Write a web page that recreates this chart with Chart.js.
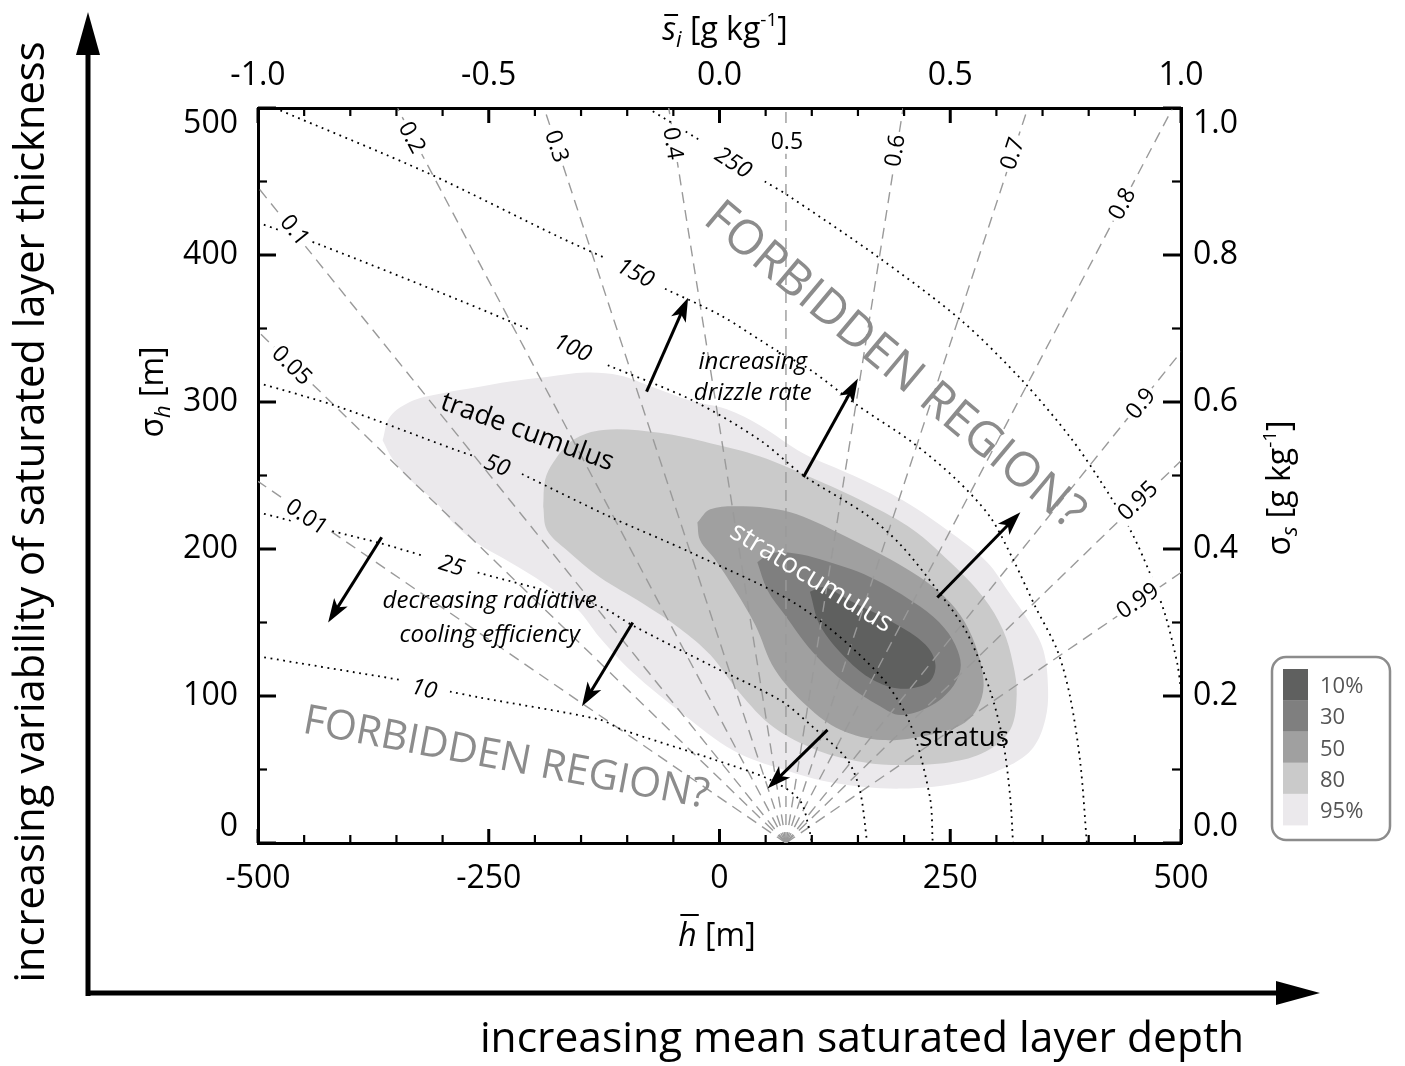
<!DOCTYPE html>
<html>
<head>
<meta charset="utf-8">
<script src="https://cdn.jsdelivr.net/npm/chart.js@4/dist/chart.umd.min.js"></script>
<style>
  html, body { margin: 0; padding: 0; background: #fff; }
  canvas { display: block; }
</style>
</head>
<body>
<canvas id="grafico" width="1405" height="1066"></canvas>
<script>
// axis ticks
const hTicks = [-500, -250, 0, 250, 500]
const sigmaHTicks = [0, 100, 200, 300, 400, 500]
const siTicks = [-1.0, -0.5, 0.0, 0.5, 1.0]
const sigmaSTicks = [0.0, 0.2, 0.4, 0.6, 0.8, 1.0]

// cloud fraction lines (dashed), all leave the same point on the bottom axis
const cfLabels = ['0.01', '0.05', '0.1', '0.2', '0.3', '0.4', '0.5', '0.6', '0.7', '0.8', '0.9', '0.95', '0.99']
const cfBaseH = 72
const cfEndH = [-500, -500, -500, -349, -190, -55, 72, 199, 334, 491, 500, 500, 500]
const cfEndSigma = [246, 348, 446, 500, 500, 500, 500, 500, 500, 500, 334, 260, 184]

// dotted contours, null = break where the label sits
const lwpLabels = ['10', '25', '50', '100', '150', '250']
const lwp10H = [-500, -346, null, -292, -260, -130, -105, -7, 55, 87, 98, 100]
const lwp10S = [127, 111, null, 103, 99, 84, 77, 57, 43, 29, 7, 0]
const lwp25H = [-500, -425, -368, -319, null, -262, -130, -94, -7, 66, 101, 138, 152, 160]
const lwp25S = [225, 213, 204, 195, null, 184, 161, 148, 120, 97, 79, 57, 36, 0]
const lwp50H = [-500, -414, -284, -265, null, -214, -119, -29, 87, 171, 206, 228, 231]
const lwp50S = [313, 297, 267, 263, null, 251, 222, 197, 161, 116, 82, 31, 0]
const lwp100H = [-500, -433, -281, -205, null, -121, -29, 44, 91, 160, 196, 236, 268, 293, 307, 315, 318]
const lwp100S = [422, 407, 369, 349, null, 325, 301, 274, 250, 223, 203, 172, 143, 104, 70, 31, 0]
const lwp150H = [-482, -317, -173, -124, null, -59, 1, 62, 98, 149, 210, 257, 293, 318, 342, 366, 380, 391, 398]
const lwp150S = [500, 456, 412, 398, null, 377, 359, 335, 322, 298, 272, 247, 222, 193, 161, 131, 99, 54, 0]
const lwp250H = [-78, -21, null, 49, 73, 171, 261, 329, 380, 412, 445, 466, 483, 496, 500]
const lwp250S = [500, 478, null, 450, 441, 399, 356, 314, 276, 247, 213, 184, 155, 122, 104]

// frequency contours of the observations
const legendLabels = ['10%', '30', '50', '80', '95%']
const pdf10H = [98, 114, 141, 188, 223, 234, 226, 196, 166, 138, 109]
const pdf10S = [171, 174, 165, 150, 135, 121, 109, 105, 111, 125, 148]
const pdf30H = [41, 55, 82, 109, 163, 217, 244, 258, 261, 250, 228, 196, 174, 138, 101, 71, 52]
const pdf30S = [191, 197, 197, 193, 181, 161, 146, 131, 118, 104, 93, 87, 93, 108, 130, 155, 172]
const pdf50H = [-24, -10, 26, 62, 91, 145, 199, 236, 261, 277, 286, 282, 266, 231, 177, 131, 95, 60, 39, 17, -5, -21]
const pdf50S = [218, 227, 229, 227, 222, 206, 188, 172, 155, 135, 111, 95, 82, 74, 70, 77, 93, 118, 148, 172, 193, 206]
const pdf80H = [-191, -189, -180, -159, -126, -65, -10, 44, 98, 160, 210, 250, 286, 307, 318, 322, 315, 288, 250, 196, 156, 106, 58, 22, -10, -43, -83, -130, -165, -187]
const pdf80S = [229, 247, 259, 274, 281, 279, 272, 263, 249, 231, 213, 191, 167, 145, 122, 101, 77, 62, 55, 53, 55, 63, 79, 102, 128, 146, 163, 181, 199, 213]
const pdf95H = [-365, -357, -332, -300, -263, -227, -187, -144, -108, -72, -32, 8, 44, 91, 145, 199, 253, 290, 312, 336, 351, 356, 353, 340, 315, 268, 196, 123, 69, 15, -40, -94, -130, -154, -191, -227, -263, -289, -306, -335, -354]
const pdf95S = [274, 290, 301, 306, 310, 314, 317, 320, 318, 310, 301, 295, 284, 265, 250, 233, 210, 191, 172, 150, 131, 104, 84, 65, 53, 42, 37, 41, 50, 63, 88, 116, 140, 159, 177, 191, 204, 218, 231, 247, 261]

const family = "'Open Sans', 'DejaVu Sans', sans-serif"
Chart.defaults.font.family = family

let grays = ['#5f605f', '#7f7f7f', '#a0a0a0', '#cacaca', '#ebe9ec']

// where the labels and notes sit (data units)
let cfLabelAt = [[-447, 222], [-463, 325], [-460, 417], [-333, 480], [-176, 474], [-50, 476], [73, 477], [190, 471], [317, 469], [436, 435], [456, 299], [453, 233], [453, 165]]
let lwpLabelAt = [[-320, 105], [-290, 189], [-241, 257], [-159, 337], [-91, 388], [15, 463]]

let arrows = [
    [-79, 307, -34, 371],
    [91, 249, 150, 316],
    [236, 167, 326, 225],
    [-366, 208, -424, 150],
    [-94, 150, -149, 93],
    [117, 77, 52, 37]
]

let notes = [
    { text: 'FORBIDDEN REGION?', h: 190, s: 325, angle: 40, width: 480, style: '', color: '#8c8c8c' },
    { text: 'FORBIDDEN REGION?', h: -231, s: 58, angle: 10.6, width: 412, style: '', color: '#8c8c8c' },
    { text: 'trade cumulus', h: -208, s: 280, angle: 20, width: 182, style: '', color: '#000' },
    { text: 'stratocumulus', h: 100, s: 181, angle: 31.5, width: 185, style: '', color: '#fff' },
    { text: 'stratus', h: 265, s: 72, angle: 0, width: 90, style: '', color: '#000' },
    { text: 'increasing', h: 36, s: 328, angle: 0, size: 24, style: 'italic', color: '#000' },
    { text: 'drizzle rate', h: 36, s: 307, angle: 0, size: 24, style: 'italic', color: '#000' },
    { text: 'decreasing radiative', h: -249, s: 165, angle: 0, size: 24, style: 'italic', color: '#000' },
    { text: 'cooling efficiency', h: -249, s: 142, angle: 0, size: 24, style: 'italic', color: '#000' }
]

function ring(hs, ss) {
    let p = hs.map((h, i) => ({ x: h, y: ss[i] }))
    p.push({ x: hs[0], y: ss[0] })
    return p
}

function path(hs, ss) {
    return hs.map((h, i) => ({ x: h, y: ss[i] }))
}

let datasets = []

let blobs = [[pdf95H, pdf95S], [pdf80H, pdf80S], [pdf50H, pdf50S], [pdf30H, pdf30S], [pdf10H, pdf10S]]
blobs.forEach((b, i) => {
    datasets.push({
        data: ring(b[0], b[1]),
        showLine: true,
        fill: 'shape',
        backgroundColor: grays[4 - i],
        borderColor: 'rgba(0,0,0,0)',
        borderWidth: 0,
        pointRadius: 0,
        tension: 0.35,
        order: 20 - i
    })
})

cfLabels.forEach((l, i) => {
    datasets.push({
        data: [{ x: cfBaseH, y: 0 }, { x: cfEndH[i], y: cfEndSigma[i] }],
        showLine: true,
        fill: false,
        borderColor: '#9a9a9a',
        borderWidth: 1.4,
        borderDash: [11, 7],
        pointRadius: 0,
        order: 2
    })
})

let lwpCurves = [[lwp10H, lwp10S], [lwp25H, lwp25S], [lwp50H, lwp50S], [lwp100H, lwp100S], [lwp150H, lwp150S], [lwp250H, lwp250S]]
lwpCurves.forEach(c => {
    datasets.push({
        data: path(c[0], c[1]),
        showLine: true,
        fill: false,
        borderColor: '#000',
        borderWidth: 1.8,
        borderDash: [1.8, 4.6],
        borderCapStyle: 'butt',
        pointRadius: 0,
        tension: 0.3,
        order: 1
    })
})

function fitSize(ctx, text, style, target) {
    ctx.font = style + ' 100px ' + family
    return 100 * target / ctx.measureText(text).width
}

function rotText(ctx, text, x, y, angle, font, color, box) {
    ctx.save()
    ctx.translate(x, y)
    ctx.rotate(angle * Math.PI / 180)
    ctx.font = font
    ctx.textAlign = 'center'
    ctx.textBaseline = 'middle'
    if (box) {
        let w = ctx.measureText(text).width
        ctx.fillStyle = '#fff'
        ctx.fillRect(-w / 2 - 3, -12, w + 6, 24)
    }
    ctx.fillStyle = color
    ctx.fillText(text, 0, 1)
    ctx.restore()
}

// text made of runs (sub/superscripts, overbars); x,y = baseline centre
function runs(ctx, parts, x, y, angle) {
    ctx.save()
    ctx.translate(x, y)
    ctx.rotate(angle * Math.PI / 180)
    ctx.textAlign = 'left'
    ctx.textBaseline = 'alphabetic'
    let total = 0
    parts.forEach(p => { ctx.font = p.font; p.w = ctx.measureText(p.t).width; total += p.w })
    let cx = -total / 2
    ctx.fillStyle = '#000'
    ctx.strokeStyle = '#000'
    parts.forEach(p => {
        ctx.font = p.font
        ctx.fillText(p.t, cx, p.dy || 0)
        if (p.bar) {
            ctx.lineWidth = 2
            ctx.beginPath()
            ctx.moveTo(cx + 2, -p.bar)
            ctx.lineTo(cx + p.w + 2, -p.bar)
            ctx.stroke()
        }
        cx += p.w
    })
    ctx.restore()
}

function arrowHead(ctx, x1, y1, x2, y2, len, half) {
    let a = Math.atan2(y2 - y1, x2 - x1)
    let c = Math.cos(a), s = Math.sin(a)
    ctx.beginPath()
    ctx.moveTo(x2, y2)
    ctx.lineTo(x2 - c * len - s * half, y2 - s * len + c * half)
    ctx.lineTo(x2 - c * len * 0.75, y2 - s * len * 0.75)
    ctx.lineTo(x2 - c * len + s * half, y2 - s * len - c * half)
    ctx.closePath()
    ctx.fill()
}

const decor = {
    id: 'decor',
    afterDatasetsDraw(chart) {
        let ctx = chart.ctx
        let sx = chart.scales.x, sy = chart.scales.y
        let px = h => sx.getPixelForValue(h)
        let py = s => sy.getPixelForValue(s)

        // cloud fraction labels
        cfLabels.forEach((l, i) => {
            let bx = px(cfBaseH), by = py(0)
            let ex = px(cfEndH[i]), ey = py(cfEndSigma[i])
            let ang
            if (Math.abs(ex - bx) < 1) ang = 0
            else if (ex < bx) ang = Math.atan2(by - ey, bx - ex) * 180 / Math.PI
            else ang = Math.atan2(ey - by, ex - bx) * 180 / Math.PI
            rotText(ctx, l, px(cfLabelAt[i][0]), py(cfLabelAt[i][1]), ang, '23px ' + family, '#000', true)
        })

        // contour labels, turned along the curve across its break
        lwpLabels.forEach((l, i) => {
            let hs = lwpCurves[i][0], ss = lwpCurves[i][1]
            let g = hs.indexOf(null)
            let ang = Math.atan2(py(ss[g + 1]) - py(ss[g - 1]), px(hs[g + 1]) - px(hs[g - 1])) * 180 / Math.PI
            rotText(ctx, l, px(lwpLabelAt[i][0]), py(lwpLabelAt[i][1]), ang, 'italic 23px ' + family, '#000', false)
        })

        // notes
        notes.forEach(n => {
            let size = n.size || fitSize(ctx, n.text, n.style, n.width)
            rotText(ctx, n.text, px(n.h), py(n.s), n.angle, n.style + ' ' + size.toFixed(1) + 'px ' + family, n.color, false)
        })

        // arrows
        ctx.save()
        ctx.strokeStyle = '#000'
        ctx.fillStyle = '#000'
        ctx.lineWidth = 3
        arrows.forEach(a => {
            let x1 = px(a[0]), y1 = py(a[1]), x2 = px(a[2]), y2 = py(a[3])
            let d = Math.hypot(x2 - x1, y2 - y1)
            ctx.beginPath()
            ctx.moveTo(x1, y1)
            ctx.lineTo(x2 - (x2 - x1) / d * 14, y2 - (y2 - y1) / d * 14)
            ctx.stroke()
            arrowHead(ctx, x1, y1, x2, y2, 24, 8)
        })
        ctx.restore()
    },
    afterDraw(chart) {
        let ctx = chart.ctx
        let a = chart.chartArea
        let sc = chart.scales

        // inward tick marks
        ctx.save()
        ctx.strokeStyle = '#000'
        let mark = (x1, y1, x2, y2, w) => {
            ctx.lineWidth = w
            ctx.beginPath()
            ctx.moveTo(x1, y1)
            ctx.lineTo(x2, y2)
            ctx.stroke()
        }
        for (let v = -500; v <= 500; v += 50) {
            let major = hTicks.includes(v)
            let p = sc.x.getPixelForValue(v)
            mark(p, a.bottom, p, a.bottom - (major ? 14 : 8), major ? 3 : 2.2)
        }
        for (let k = -10; k <= 10; k++) {
            let major = k % 5 === 0
            let p = sc.x2.getPixelForValue(k / 10)
            mark(p, a.top, p, a.top + (major ? 15 : 8), major ? 3 : 2.2)
        }
        for (let v = 0; v <= 500; v += 50) {
            let major = sigmaHTicks.includes(v)
            let p = sc.y.getPixelForValue(v)
            mark(a.left, p, a.left + (major ? 18 : 9), p, major ? 3 : 2.2)
        }
        for (let k = 0; k <= 10; k++) {
            let major = k % 2 === 0
            let p = sc.y2.getPixelForValue(k / 10)
            mark(a.right, p, a.right - (major ? 18 : 9), p, major ? 3 : 2.2)
        }
        ctx.restore()

        // axis titles
        let big = '32px ' + family
        let it = 'italic 32px ' + family
        let sub = 'italic 22px ' + family
        let sup = '19px ' + family
        runs(ctx, [{ t: 'σ', font: big }, { t: 'h', font: sub, dy: 7 }, { t: ' [m]', font: big }], 163, 392, -90)
        runs(ctx, [{ t: 'σ', font: big }, { t: 's', font: sub, dy: 7 }, { t: ' [g kg', font: big }, { t: '-1', font: sup, dy: -14 }, { t: ']', font: big }], 1290, 488, -90)
        runs(ctx, [{ t: 's', font: it, bar: 25 }, { t: 'i', font: sub, dy: 7 }, { t: ' [g kg', font: big }, { t: '-1', font: sup, dy: -14 }, { t: ']', font: big }], 725, 40, 0)
        runs(ctx, [{ t: 'h', font: it, bar: 31 }, { t: ' [m]', font: big }], 717, 946, 0)

        // outer arrows and their texts
        ctx.save()
        ctx.strokeStyle = '#000'
        ctx.fillStyle = '#000'
        ctx.lineWidth = 5
        ctx.beginPath()
        ctx.moveTo(88, 996)
        ctx.lineTo(88, 48)
        ctx.moveTo(86, 993)
        ctx.lineTo(1282, 993)
        ctx.stroke()
        ctx.beginPath()
        ctx.moveTo(88, 12); ctx.lineTo(100, 55); ctx.lineTo(76, 55); ctx.closePath(); ctx.fill()
        ctx.beginPath()
        ctx.moveTo(1320, 993); ctx.lineTo(1276, 981); ctx.lineTo(1276, 1005); ctx.closePath(); ctx.fill()
        ctx.restore()

        let t1 = 'increasing variability of saturated layer thickness'
        let t2 = 'increasing mean saturated layer depth'
        let s1 = fitSize(ctx, t1, '', 940)
        let s2 = fitSize(ctx, t2, '', 765)
        runs(ctx, [{ t: t1, font: s1.toFixed(1) + 'px ' + family }], 44, 512, -90)
        runs(ctx, [{ t: t2, font: s2.toFixed(1) + 'px ' + family }], 862, 1052, 0)

        // legend box
        ctx.save()
        ctx.strokeStyle = '#8c8c8c'
        ctx.lineWidth = 2.5
        ctx.beginPath()
        ctx.roundRect(1272, 657, 118, 183, 14)
        ctx.stroke()
        ctx.font = '22px ' + family
        ctx.textBaseline = 'middle'
        ctx.textAlign = 'left'
        legendLabels.forEach((l, i) => {
            let y0 = 669 + i * 31.2
            ctx.fillStyle = grays[i]
            ctx.fillRect(1283, y0, 25, 31.6)
            ctx.fillStyle = '#555'
            ctx.fillText(l, 1320, y0 + 18)
        })
        ctx.restore()
    }
}

function axisBase(min, max, position, size, list, fmt, pad) {
    let vertical = position === 'left' || position === 'right'
    return {
        type: 'linear',
        axis: vertical ? 'y' : 'x',
        position: position,
        min: min,
        max: max,
        z: 1,
        afterBuildTicks: s => { s.ticks = list.map(v => ({ value: v })) },
        afterFit: s => { if (vertical) s.width = size; else s.height = size },
        grid: { display: false, drawTicks: false },
        border: { display: true, color: '#000', width: 3 },
        ticks: {
            color: '#000',
            font: { size: 32, lineHeight: vertical ? 1 : 1.2 },
            padding: pad,
            maxRotation: 0,
            autoSkip: false,
            callback: fmt
        }
    }
}

let ctx = document.getElementById('grafico').getContext('2d')
new Chart(ctx, {
    type: 'scatter',
    data: { datasets: datasets },
    options: {
        responsive: false,
        animation: false,
        devicePixelRatio: 1,
        events: [],
        layout: { padding: 0 },
        plugins: { legend: { display: false }, tooltip: { enabled: false } },
        scales: {
            x: axisBase(-500, 500, 'bottom', 223, hTicks, v => String(v), 17),
            x2: axisBase(-1, 1, 'top', 108, siTicks, v => v.toFixed(1), 13),
            y: axisBase(0, 500, 'left', 258, sigmaHTicks, v => v === 500 ? ['', '500'] : (v === 0 ? ['0', ''] : String(v)), 20),
            y2: axisBase(0, 1, 'right', 224, sigmaSTicks, v => v === 1 ? ['', '1.0'] : (v === 0 ? ['0.0', ''] : v.toFixed(1)), 12)
        }
    },
    plugins: [decor]
})
</script>
</body>
</html>
